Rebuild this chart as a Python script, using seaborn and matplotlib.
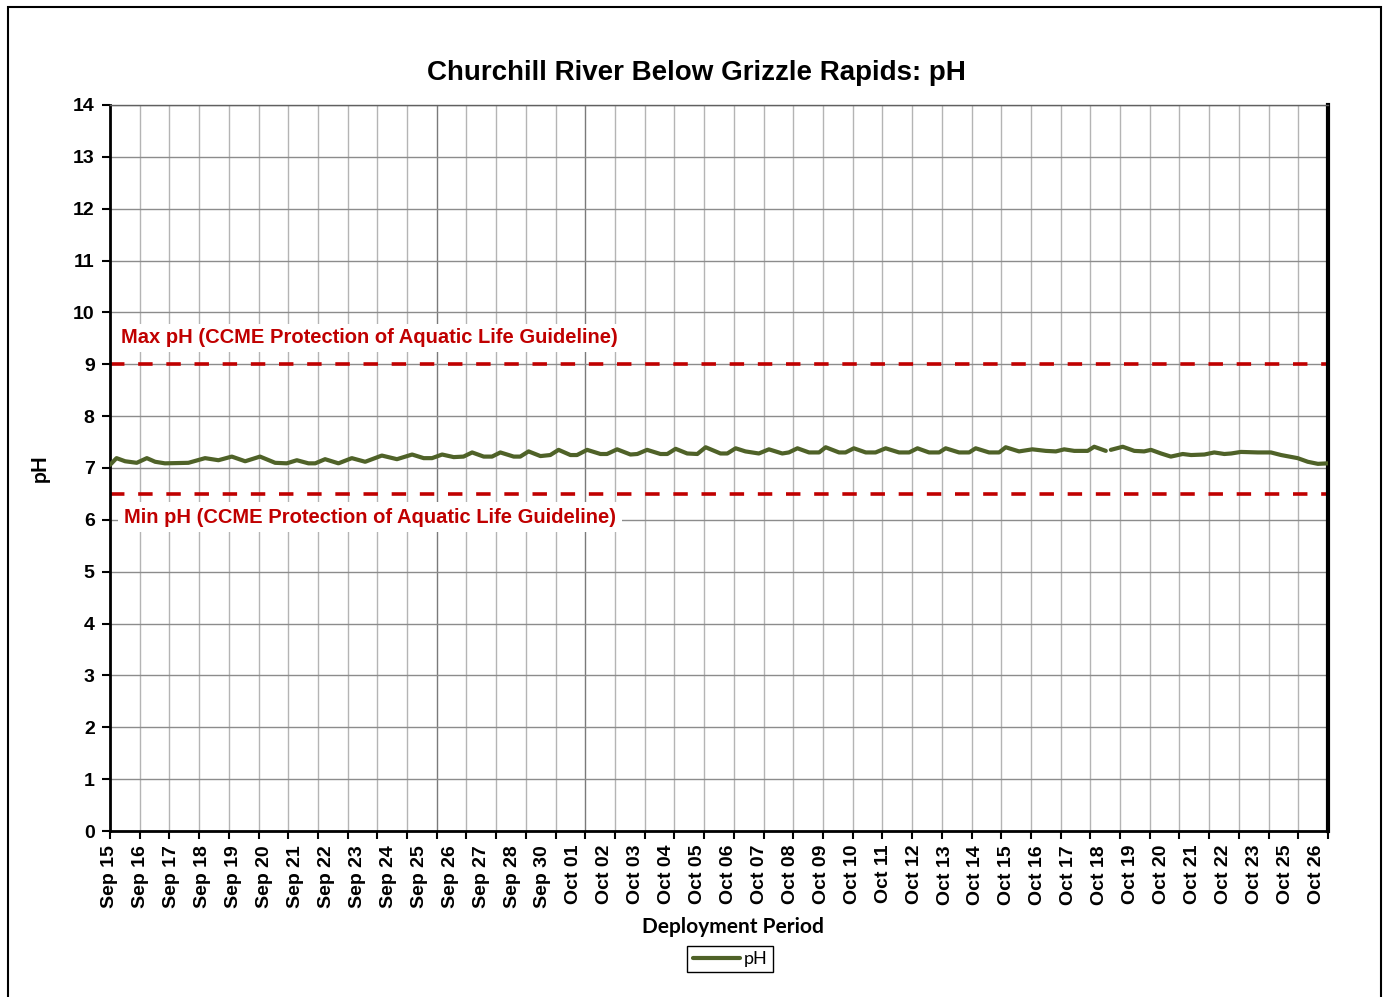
import numpy as np
import pandas as pd
import matplotlib
matplotlib.use('Agg')
import matplotlib.pyplot as plt
import matplotlib.patches as patches
import seaborn as sns

# Deployment record: days after Sep 15 00:00 and pH readings
day = [0.00, 0.22, 0.51, 0.90, 1.24, 1.52, 1.85, 2.64, 3.20, 3.65, 4.10, 4.55,
       5.05, 5.56, 5.95, 6.29, 6.68, 6.91, 7.24, 7.69, 8.14, 8.59, 9.15, 9.66,
       10.17, 10.56, 10.84, 11.18, 11.57, 11.90, 12.19, 12.58, 12.86, 13.14,
       13.59, 13.81, 14.09, 14.49, 14.82, 15.10, 15.50, 15.72, 16.06, 16.51,
       16.73, 17.07, 17.52, 17.75, 18.08, 18.53, 18.76, 19.04, 19.43, 19.77,
       20.05, 20.55, 20.78, 21.06, 21.39, 21.84, 22.18, 22.63, 22.85, 23.14,
       23.53, 23.87, 24.09, 24.54, 24.76, 25.04, 25.44, 25.77, 26.11, 26.56,
       26.90, 27.18, 27.57, 27.91, 28.13, 28.58, 28.92, 29.14, 29.59, 29.93,
       30.15, 30.60, 31.05, 31.50, 31.84, 32.12, 32.46, 32.91, 33.13, 33.52,
       33.69, 34.09, 34.48, 34.81, 35.04, 35.38, 35.71, 36.11, 36.39, 36.84,
       37.17, 37.51, 37.74, 38.07, 38.64, 39.08, 39.42, 39.98, 40.32, 40.66,
       40.99]
ph = [7.06, 7.19, 7.13, 7.10, 7.19, 7.12, 7.09, 7.10, 7.19, 7.15, 7.22, 7.13,
      7.22, 7.10, 7.09, 7.15, 7.09, 7.09, 7.17, 7.09, 7.19, 7.12, 7.24, 7.17,
      7.26, 7.19, 7.19, 7.26, 7.21, 7.22, 7.30, 7.22, 7.22, 7.30,
      7.22, 7.22, 7.32, 7.23, 7.25, 7.35, 7.25, 7.25, 7.35, 7.27,
      7.27, 7.36, 7.26, 7.27, 7.35, 7.27, 7.27, 7.37, 7.28, 7.27,
      7.40, 7.28, 7.28, 7.38, 7.32, 7.28, 7.36, 7.28, 7.30, 7.38,
      7.30, 7.30, 7.40, 7.30, 7.30, 7.38, 7.30, 7.30, 7.38, 7.30,
      7.30, 7.38, 7.30, 7.30, 7.38, 7.30, 7.30, 7.38, 7.30, 7.30,
      7.40, 7.32, 7.36, 7.33, 7.32, 7.36, 7.33, 7.33, 7.41, 7.33,
      7.35, 7.41, 7.33, 7.32, 7.35, 7.28, 7.22, 7.27, 7.25, 7.26,
      7.30, 7.27, 7.28, 7.31, 7.30, 7.30, 7.25, 7.19, 7.12, 7.08,
      7.09]
# short break in the record on Oct 18
segment = [0] * 94 + [1] * 21

tick_labels = ['Sep 15', 'Sep 16', 'Sep 17', 'Sep 18', 'Sep 19', 'Sep 20', 'Sep 21',
               'Sep 22', 'Sep 23', 'Sep 24', 'Sep 25', 'Sep 26', 'Sep 27', 'Sep 28',
               'Sep 30', 'Oct 01', 'Oct 02', 'Oct 03', 'Oct 04', 'Oct 05', 'Oct 06',
               'Oct 07', 'Oct 08', 'Oct 09', 'Oct 10', 'Oct 11', 'Oct 12', 'Oct 13',
               'Oct 14', 'Oct 15', 'Oct 16', 'Oct 17', 'Oct 18', 'Oct 19', 'Oct 20',
               'Oct 21', 'Oct 22', 'Oct 23', 'Oct 25', 'Oct 26']

max_ph = 9.0
min_ph = 6.5

sns.set_style('white')
plt.rcParams['font.family'] = ['Liberation Sans', 'DejaVu Sans']
plt.rcParams['text.color'] = 'black'
plt.rcParams['axes.labelcolor'] = 'black'
plt.rcParams['xtick.color'] = 'black'
plt.rcParams['ytick.color'] = 'black'
label_font = ['Lato', 'DejaVu Sans']
red = '#C00000'
green = '#4F6228'

df = pd.DataFrame({'day': day, 'pH': ph, 'segment': segment})

fig = plt.figure(figsize=(13.84, 9.97), dpi=100)
ax = fig.add_axes([110 / 1384, 1 - 831 / 997, 1218 / 1384, 726 / 997])

sns.lineplot(data=df, x='day', y='pH', units='segment', estimator=None,
             color=green, lw=3.0, ax=ax, legend=False, zorder=3)

ax.axhline(max_ph, color=red, lw=2.6, dashes=(4, 3.8), zorder=2)
ax.axhline(min_ph, color=red, lw=2.6, dashes=(4, 3.8), zorder=2)

ax.text(0.37, 9.51, 'Max pH (CCME Protection of Aquatic Life Guideline)', color=red,
        fontsize=14.5, fontweight='bold', ha='left', va='center', zorder=4,
        bbox=dict(facecolor='white', edgecolor='none', pad=3))
ax.text(0.47, 6.05, 'Min pH (CCME Protection of Aquatic Life Guideline)', color=red,
        fontsize=14.5, fontweight='bold', ha='left', va='center', zorder=4,
        bbox=dict(facecolor='white', edgecolor='none', pad=4))

# axes
ax.set_xlim(0, 41)
ax.set_ylim(0, 14)
ax.set_yticks(range(0, 15))
ax.set_xticks(range(0, 42))
ax.set_xticklabels([])
ax.xaxis.remove_overlapping_locs = False
ax.set_xticks(np.linspace(0, 40.6, len(tick_labels)), minor=True)
ax.set_xticklabels(tick_labels, minor=True, rotation=90, fontsize=14, fontweight='bold')
for t in ax.get_yticklabels():
    t.set_fontweight('bold')
    t.set_fontsize(14)

ax.tick_params(axis='x', which='major', direction='out', length=6, width=1.5,
               color='black', bottom=True)
ax.tick_params(axis='x', which='minor', length=0, pad=10, bottom=True)
ax.tick_params(axis='y', direction='out', length=6, width=1.5, color='black',
               left=True, pad=5)

ax.set_axisbelow(True)
ax.grid(axis='y', color='#8C8C8C', lw=1)
ax.grid(axis='x', which='major', color='#B4B4B4', lw=1)
ax.grid(axis='x', which='minor', visible=False)
xgrid = ax.xaxis.get_major_ticks()
xgrid[11].gridline.set_color('#7A7A7A')
xgrid[16].gridline.set_color('#7A7A7A')

for side in ['left', 'bottom']:
    ax.spines[side].set_color('black')
    ax.spines[side].set_linewidth(2)
ax.spines['right'].set_color('black')
ax.spines['right'].set_linewidth(3)
ax.spines['top'].set_color('#606060')
ax.spines['top'].set_linewidth(1)

ax.set_xlabel('Deployment Period', family=label_font, fontweight='bold', fontsize=15)
ax.xaxis.set_label_coords((733 - 110) / 1218, -(927 - 831) / 726)
ax.xaxis.label.set_va('center')
ax.set_ylabel('pH', family=label_font, fontweight='bold', fontsize=15)
ax.yaxis.set_label_coords((40 - 110) / 1218, 0.5)
ax.yaxis.label.set_va('center')

fig.text(696 / 1384, 1 - 73 / 997, 'Churchill River Below Grizzle Rapids: pH',
         ha='center', va='center', fontsize=20, fontweight='bold')

leg = fig.legend([ax.lines[0]], ['pH'], loc='center',
                 bbox_to_anchor=(730 / 1384, 1 - 959 / 997), frameon=True,
                 fancybox=False, edgecolor='black', framealpha=1,
                 prop={'family': label_font, 'size': 13}, handlelength=2.6,
                 handletextpad=0.2, borderpad=0.3, borderaxespad=0)
leg.get_frame().set_linewidth(1.0)

# outer chart border
fig.add_artist(patches.Rectangle((8 / 1384, -0.05), (1381 - 8) / 1384, 1 - 7 / 997 + 0.05,
                                 transform=fig.transFigure, fill=False,
                                 edgecolor='black', lw=1.5, clip_on=False))

fig.savefig('out.png', dpi=100)
